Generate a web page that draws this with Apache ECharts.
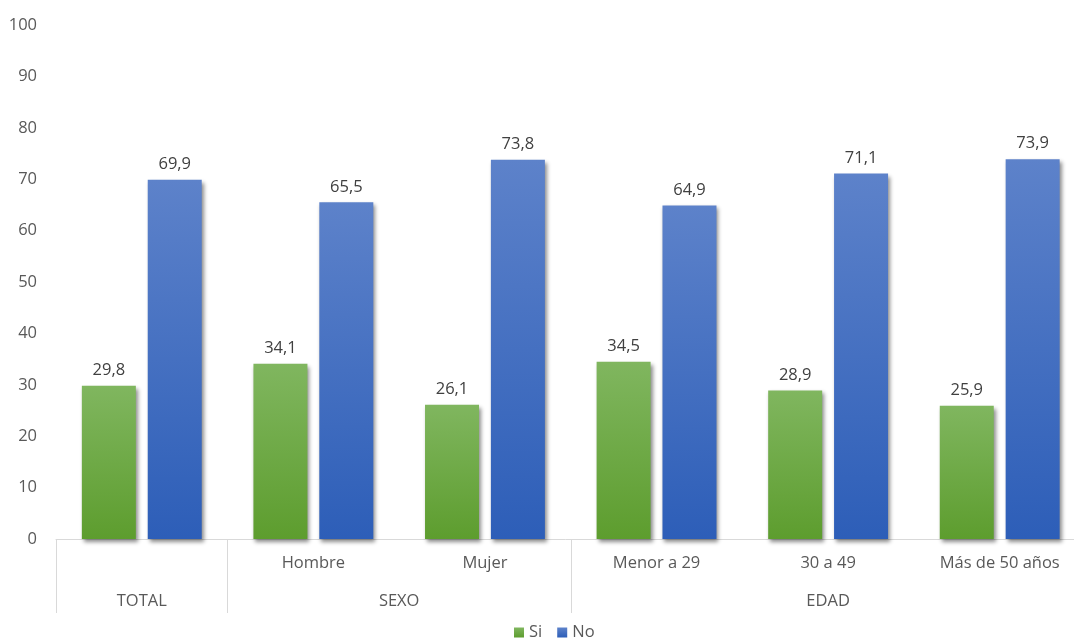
<!DOCTYPE html>
<html>
<head>
<meta charset="utf-8">
<script src="https://cdn.jsdelivr.net/npm/echarts@6/dist/echarts.min.js"></script>
<style>html,body{margin:0;padding:0;background:#fff}#c{width:1074px;height:643px}</style>
</head>
<body>
<div id="c"></div>
<script>
const categories = ['', 'Hombre', 'Mujer', 'Menor a 29', '30 a 49', 'Más de 50 años'];
const groupLabels = ['', 'TOTAL', '', '', 'SEXO', '', '', '', '', 'EDAD', '', '', ''];
const groupSeparators = [0, 2, 6, 12];
const seriesNames = ['Si', 'No'];
const siValues = [29.8, 34.1, 26.1, 34.5, 28.9, 25.9];
const noValues = [69.9, 65.5, 73.8, 64.9, 71.1, 73.9];

const FONT = '"Open Sans", sans-serif';
const chart = echarts.init(document.getElementById('c'), null, {renderer: 'canvas'});
const grad = (top, bottom) => new echarts.graphic.LinearGradient(0, 0, 0, 1, [
  {offset: 0, color: top}, {offset: 1, color: bottom}
]);
const labelCfg = {
  show: true, position: 'top', distance: 7, color: '#404040', fontSize: 16.5, fontFamily: FONT,
  formatter: p => String(p.value.toFixed(1)).replace('.', ',')
};
const shadow = {shadowColor: 'rgba(0,0,0,0.45)', shadowBlur: 4, shadowOffsetX: 2, shadowOffsetY: 3};

chart.setOption({
  animation: false,
  grid: {left: 56, width: 1029.5, top: 25, bottom: 104, containLabel: false, outerBoundsMode: 'none'},
  legend: {
    data: seriesNames, top: 624, left: 514, padding: 0, itemWidth: 10, itemHeight: 10, itemGap: 15,
    icon: 'rect', textStyle: {color: '#595959', fontSize: 16.5, fontFamily: FONT}
  },
  xAxis: [{
    type: 'category', data: categories, position: 'bottom',
    axisLine: {show: true, lineStyle: {color: '#d9d9d9', width: 1}},
    axisTick: {show: false},
    axisLabel: {color: '#595959', fontSize: 16.5, fontFamily: FONT, margin: 16, interval: 0}
  }, {
    type: 'category', data: groupLabels, position: 'bottom', boundaryGap: false,
    axisLine: {show: false},
    axisTick: {show: true, length: 74, inside: false, lineStyle: {color: '#d9d9d9', width: 1},
      interval: (i) => groupSeparators.indexOf(i) >= 0},
    axisLabel: {color: '#595959', fontSize: 16.5, fontFamily: FONT, margin: 54, interval: 0}
  }],
  yAxis: {
    type: 'value', min: 0, max: 100, interval: 10,
    axisLine: {show: false}, axisTick: {show: false}, splitLine: {show: false},
    axisLabel: {color: '#595959', fontSize: 16.5, fontFamily: FONT, margin: 19}
  },
  series: [{
    name: 'Si', type: 'bar', data: siValues, barWidth: 54, barGap: '22%',
    itemStyle: Object.assign({color: grad('#80b65f', '#5d9d2e')}, shadow),
    label: labelCfg
  }, {
    name: 'No', type: 'bar', data: noValues, barWidth: 54, barGap: '22%',
    itemStyle: Object.assign({color: grad('#5d82ca', '#2d5eb8')}, shadow),
    label: labelCfg
  }]
});
</script>
</body>
</html>
